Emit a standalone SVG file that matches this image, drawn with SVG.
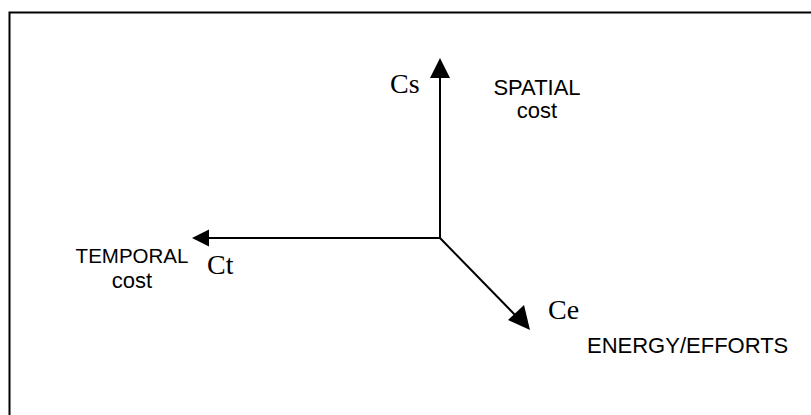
<svg xmlns="http://www.w3.org/2000/svg" width="811" height="415" viewBox="0 0 811 415">
<style>
.ax{stroke:#000;stroke-width:2;fill:none}
.sym{font-family:"Liberation Serif","Times New Roman",serif;font-size:28px;fill:#000}
.lab{font-family:"Liberation Sans",Arial,sans-serif;font-size:22px;fill:#000}
</style>
<rect x="0" y="0" width="811" height="415" fill="#fff"/>
<rect id="frame" x="9.5" y="12.5" width="820" height="420" fill="none" stroke="#000" stroke-width="2"/>
<g id="connectors">
<line class="ax" x1="440" y1="238" x2="440" y2="76"/>
<polygon points="440,58 430,78 450,78" fill="#000"/>
<line class="ax" x1="440" y1="238" x2="206" y2="238"/>
<polygon points="192,238 209,229.5 209,246.5" fill="#000"/>
<line class="ax" x1="440" y1="238" x2="518" y2="318"/>
<polygon points="530,330 508,320 524,305" fill="#000"/>
</g>
<g id="spatial">
<text class="sym" x="390" y="93">Cs</text>
<text class="lab" x="537" y="95" text-anchor="middle">SPATIAL</text>
<text class="lab" x="537" y="118" text-anchor="middle">cost</text>
</g>
<g id="temporal">
<text class="lab" x="132" y="263" text-anchor="middle" style="font-size:20.5px">TEMPORAL</text>
<text class="lab" x="132" y="288" text-anchor="middle">cost</text>
<text class="sym" x="207" y="274">Ct</text>
</g>
<g id="energy">
<text class="sym" x="548" y="319">Ce</text>
<text class="lab" x="587" y="353">ENERGY/EFFORTS</text>
</g>
</svg>
